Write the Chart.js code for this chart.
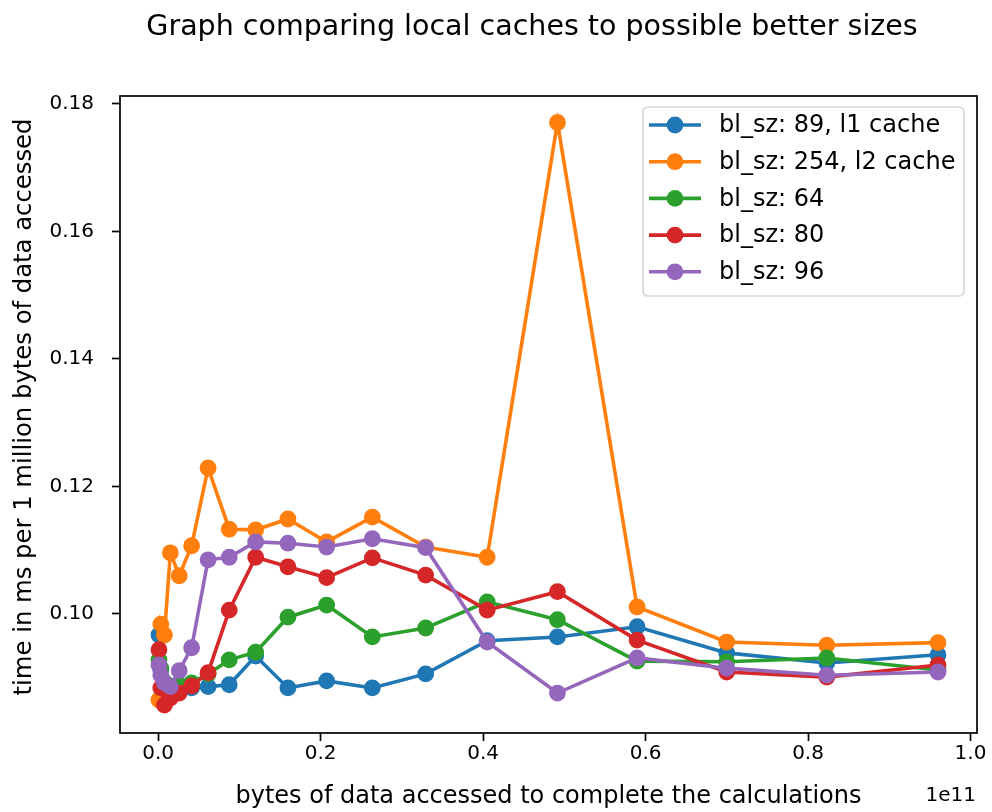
<!DOCTYPE html>
<html><head><meta charset="utf-8">
<script src="https://cdn.jsdelivr.net/npm/chart.js@4.4.0/dist/chart.umd.min.js"></script>
<style>html,body{margin:0;padding:0;background:#fff;}#wrap{position:relative;width:992px;height:812px;}</style>
</head><body><div id="wrap"><canvas id="c" width="992" height="812"></canvas></div>
<script>
// bytes of data accessed (x values)
const bytesAccessed = [9.6e7, 3.24e8, 7.68e8, 1.5e9, 2.592e9, 4.116e9, 6.144e9, 8.748e9, 1.2e10, 1.5972e10, 2.0736e10, 2.6364e10, 3.2928e10, 4.05e10, 4.9152e10, 5.8956e10, 6.9984e10, 8.2308e10, 9.6e10];
// time in ms per 1 million bytes
const blsz89  = [0.0967, 0.0912, 0.0889, 0.0881, 0.0884, 0.0884, 0.0886, 0.0889, 0.0934, 0.0884, 0.0895, 0.0884, 0.0906, 0.0958, 0.0964, 0.0980, 0.0939, 0.0923, 0.0936];
const blsz254 = [0.0865, 0.0984, 0.0967, 0.1096, 0.1060, 0.1107, 0.1229, 0.1133, 0.1132, 0.1149, 0.1113, 0.1152, 0.1105, 0.1089, 0.1771, 0.1011, 0.0956, 0.0951, 0.0955];
const blsz64  = [0.0928, 0.0915, 0.0893, 0.0887, 0.0889, 0.0892, 0.0906, 0.0928, 0.0940, 0.0995, 0.1014, 0.0964, 0.0978, 0.1019, 0.0991, 0.0926, 0.0925, 0.0931, 0.0912];
const blsz80  = [0.0944, 0.0884, 0.0857, 0.0868, 0.0876, 0.0887, 0.0908, 0.1006, 0.1089, 0.1074, 0.1057, 0.1088, 0.1061, 0.1006, 0.1035, 0.0959, 0.0909, 0.0901, 0.0920];
const blsz96  = [0.0920, 0.0904, 0.0892, 0.0886, 0.0911, 0.0947, 0.1085, 0.1089, 0.1113, 0.1111, 0.1105, 0.1118, 0.1104, 0.0956, 0.0876, 0.0931, 0.0915, 0.0904, 0.0909];
const seriesLabels = ['bl_sz: 89, l1 cache', 'bl_sz: 254, l2 cache', 'bl_sz: 64', 'bl_sz: 80', 'bl_sz: 96'];
const xTicks = [0, 2e10, 4e10, 6e10, 8e10, 1e11];
const yTicks = [0.10, 0.12, 0.14, 0.16, 0.18];
const chartTitle = 'Graph comparing local caches to possible better sizes';
const xTitle = 'bytes of data accessed to complete the calculations';
const yTitle = 'time in ms per 1 million bytes of data accessed';
const xOffsetText = '1e11';

const colors = ['#1f77b4', '#ff7f0e', '#2ca02c', '#d62728', '#9467bd'];
const seriesValues = [blsz89, blsz254, blsz64, blsz80, blsz96];
const FONT = "'DejaVu Sans', sans-serif";

const datasets = seriesValues.map((vals, i) => ({
  label: seriesLabels[i],
  data: vals.map((v, j) => ({x: bytesAccessed[j], y: v})),
  borderColor: colors[i],
  backgroundColor: colors[i],
  pointBackgroundColor: colors[i],
  pointBorderColor: colors[i],
  borderWidth: 3.6,
  pointRadius: 7.6,
  pointBorderWidth: 1.6,
  tension: 0,
  order: 5 - i,
  clip: false
}));

const decor = {
  id: 'decor',
  afterDraw(chart) {
    const ctx = chart.ctx, a = chart.chartArea;
    ctx.save();
    // frame
    ctx.strokeStyle = '#000'; ctx.lineWidth = 1.7;
    ctx.strokeRect(a.left, a.top, a.right - a.left, a.bottom - a.top);
    ctx.fillStyle = '#000';
    // title
    ctx.font = '28.5px ' + FONT;
    ctx.textAlign = 'center'; ctx.textBaseline = 'middle';
    ctx.fillText(chartTitle, 532, 28);
    // y axis title
    ctx.save();
    ctx.translate(25, 407);
    ctx.rotate(-Math.PI / 2);
    ctx.font = '24.3px ' + FONT;
    ctx.textAlign = 'center'; ctx.textBaseline = 'middle';
    ctx.fillText(yTitle, 0, 0);
    ctx.restore();
    // offset text
    ctx.font = '20px ' + FONT;
    ctx.textAlign = 'right'; ctx.textBaseline = 'middle';
    ctx.fillText(xOffsetText, a.right - 1, 796);
    // legend
    const lx = 643, ly = 107, lw = 321, lh = 189, r = 5;
    ctx.beginPath();
    ctx.moveTo(lx + r, ly); ctx.lineTo(lx + lw - r, ly); ctx.arcTo(lx + lw, ly, lx + lw, ly + r, r);
    ctx.lineTo(lx + lw, ly + lh - r); ctx.arcTo(lx + lw, ly + lh, lx + lw - r, ly + lh, r);
    ctx.lineTo(lx + r, ly + lh); ctx.arcTo(lx, ly + lh, lx, ly + lh - r, r);
    ctx.lineTo(lx, ly + r); ctx.arcTo(lx, ly, lx + r, ly, r); ctx.closePath();
    ctx.fillStyle = 'rgba(255,255,255,0.8)'; ctx.fill();
    ctx.strokeStyle = '#d6d6d6'; ctx.lineWidth = 1.7; ctx.stroke();
    seriesLabels.forEach((lab, i) => {
      const y = 125 + i * 36.7;
      ctx.strokeStyle = colors[i]; ctx.lineWidth = 3.6;
      ctx.beginPath(); ctx.moveTo(649, y); ctx.lineTo(701, y); ctx.stroke();
      ctx.fillStyle = colors[i];
      ctx.beginPath(); ctx.arc(675, y, 8.4, 0, Math.PI * 2); ctx.fill();
      ctx.fillStyle = '#000'; ctx.font = '24px ' + FONT;
      ctx.textAlign = 'left'; ctx.textBaseline = 'middle';
      ctx.fillText(lab, 719, y + 1);
    });
    ctx.restore();
  }
};

new Chart(document.getElementById('c'), {
  type: 'line',
  data: {datasets},
  plugins: [decor],
  options: {
    responsive: false, animation: false, devicePixelRatio: 1,
    layout: {padding: {left: 0, right: 15, top: 96, bottom: 0}},
    plugins: {legend: {display: false}, title: {display: false}, tooltip: {enabled: false}},
    scales: {
      x: {
        type: 'linear', min: -0.047e11, max: 1.008e11,
        afterBuildTicks: s => { s.ticks = xTicks.map(v => ({value: v})); },
        afterFit: s => { s.height = 79; },
        grid: {display: true, drawOnChartArea: false, drawTicks: true, tickLength: 8, tickWidth: 1.7, tickColor: '#000'},
        border: {display: false},
        ticks: {color: '#000', font: {family: FONT, size: 20}, padding: 1, maxRotation: 0, autoSkip: false,
                callback: v => (v / 1e11).toFixed(1)},
        title: {display: true, text: xTitle, color: '#000', font: {family: FONT, size: 24}, padding: {top: 0, bottom: 1}}
      },
      y: {
        type: 'linear', min: 0.08133, max: 0.18125,
        afterBuildTicks: s => { s.ticks = yTicks.map(v => ({value: v})); },
        afterFit: s => { s.width = 120; },
        grid: {display: true, drawOnChartArea: false, drawTicks: true, tickLength: 8, tickWidth: 1.7, tickColor: '#000'},
        border: {display: false},
        ticks: {color: '#000', font: {family: FONT, size: 20}, padding: 18, autoSkip: false,
                callback: v => v.toFixed(2)},
        title: {display: false}
      }
    }
  }
});
</script></body></html>
